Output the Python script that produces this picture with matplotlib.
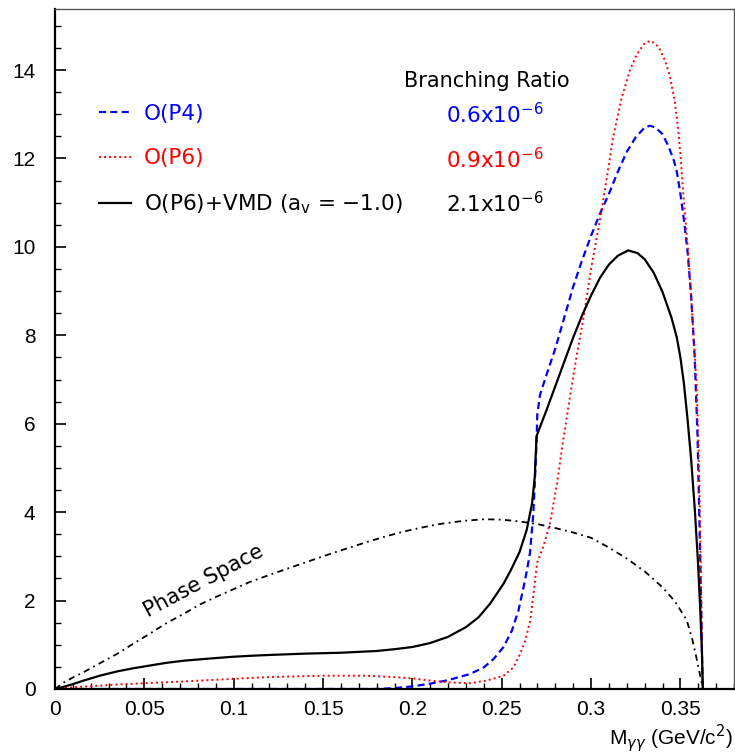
import numpy as np
import matplotlib
matplotlib.use("Agg")
import matplotlib.pyplot as plt
from matplotlib.ticker import MultipleLocator, FuncFormatter

# curves (x = M_gg in GeV/c^2)
vmd_x = [0, 0.003, 0.01, 0.016, 0.025, 0.035, 0.044, 0.053, 0.062, 0.072, 0.081, 0.09,
         0.10, 0.109, 0.12, 0.14, 0.16, 0.18, 0.19, 0.20, 0.21, 0.22, 0.23, 0.237,
         0.2435, 0.251, 0.255, 0.26, 0.264, 0.267, 0.2685, 0.2695, 0.275, 0.28, 0.285,
         0.29, 0.295, 0.30, 0.305, 0.31, 0.315, 0.3208, 0.326, 0.33, 0.335, 0.34,
         0.345, 0.348, 0.35, 0.352, 0.354, 0.356, 0.358, 0.3598, 0.361, 0.362, 0.3626]
vmd_y = [0, 0.03, 0.11, 0.19, 0.30, 0.40, 0.47, 0.53, 0.59, 0.64, 0.67, 0.70,
         0.73, 0.75, 0.77, 0.80, 0.82, 0.86, 0.90, 0.95, 1.04, 1.18, 1.40, 1.62,
         1.93, 2.38, 2.68, 3.10, 3.60, 4.20, 4.80, 5.72, 6.30, 6.85, 7.40,
         7.95, 8.45, 8.90, 9.30, 9.60, 9.80, 9.92, 9.86, 9.72, 9.42, 8.98,
         8.40, 7.95, 7.50, 6.90, 6.10, 5.20, 4.10, 2.90, 1.90, 0.90, 0]

p4_x = [0, 0.18, 0.19, 0.20, 0.21, 0.22, 0.2323, 0.24, 0.2455, 0.251, 0.2557, 0.2594,
        0.2622, 0.2641, 0.2658, 0.2677, 0.2686, 0.2696, 0.2699, 0.2714, 0.275, 0.28,
        0.285, 0.29, 0.295, 0.30, 0.305, 0.31, 0.315, 0.32, 0.325, 0.33, 0.333,
        0.336, 0.34, 0.343, 0.346, 0.348, 0.35, 0.352, 0.354, 0.356, 0.358, 0.3596,
        0.3608, 0.3618, 0.3624]
p4_y = [0, 0, 0.02, 0.06, 0.12, 0.20, 0.34, 0.49, 0.68, 0.95, 1.32, 1.78,
        2.30, 2.68, 3.07, 3.97, 4.73, 5.71, 6.20, 6.65, 7.10, 7.70,
        8.40, 9.10, 9.70, 10.25, 10.75, 11.20, 11.70, 12.15, 12.48, 12.70, 12.74,
        12.70, 12.55, 12.30, 12.00, 11.70, 11.20, 10.60, 9.90, 8.90, 7.50, 5.71,
        3.50, 1.50, 0]

p6_x = [0, 0.0102, 0.0345, 0.05, 0.0718, 0.0998, 0.12, 0.149, 0.174, 0.19, 0.20, 0.21,
        0.22, 0.2323, 0.2415, 0.251, 0.2566, 0.2604, 0.2632, 0.266, 0.2678, 0.2693,
        0.27, 0.2733, 0.277, 0.2807, 0.2844, 0.2882, 0.292, 0.2956, 0.30, 0.305, 0.309,
        0.3124, 0.317, 0.3218, 0.325, 0.3274, 0.33, 0.333, 0.336, 0.3386, 0.3415,
        0.3442, 0.3468, 0.3488, 0.3502, 0.3516, 0.353, 0.3544, 0.3556, 0.3568, 0.358,
        0.3591, 0.36, 0.361, 0.3618, 0.3624]
p6_y = [0, 0.04, 0.10, 0.13, 0.17, 0.23, 0.27, 0.30, 0.30, 0.27, 0.24, 0.19,
        0.15, 0.13, 0.19, 0.30, 0.49, 0.80, 1.10, 1.55, 2.15, 2.68,
        2.88, 3.22, 3.75, 4.58, 5.63, 6.61, 7.55, 8.35, 9.50, 10.61, 11.60,
        12.49, 13.35, 14.00, 14.30, 14.46, 14.60, 14.66, 14.60, 14.46, 14.20,
        13.85, 13.30, 12.65, 12.00, 11.21, 10.55, 9.86, 9.10, 8.35, 7.60,
        6.84, 5.71, 3.80, 1.80, 0]

ps_x = [0, 0.005, 0.01, 0.016, 0.025, 0.035, 0.044, 0.053, 0.062, 0.072, 0.081, 0.09,
        0.10, 0.109, 0.12, 0.132, 0.145, 0.155, 0.165, 0.175, 0.185, 0.195, 0.205,
        0.215, 0.228, 0.24, 0.25, 0.26, 0.27, 0.28, 0.29, 0.30, 0.31, 0.32, 0.33,
        0.34, 0.347, 0.3535, 0.3565, 0.3585, 0.3603, 0.3615, 0.3626]
ps_y = [0, 0.15, 0.26, 0.38, 0.58, 0.80, 1.03, 1.25, 1.48, 1.70, 1.91, 2.08,
        2.26, 2.42, 2.58, 2.75, 2.93, 3.07, 3.20, 3.33, 3.45, 3.56, 3.65,
        3.73, 3.80, 3.84, 3.83, 3.79, 3.73, 3.64, 3.54, 3.42, 3.20, 2.95, 2.66,
        2.30, 1.98, 1.56, 1.15, 0.80, 0.45, 0.22, 0]

labels = ['O(P4)', 'O(P6)', r'O(P6)+VMD ($\mathregular{a_v}$ = $-$1.0)']
br_values = ['0.6', '0.9', '2.1']
colors = ['blue', 'red', 'black']

W, H = 735, 755
fig = plt.figure(figsize=(W / 100, H / 100), dpi=100)
ax = fig.add_axes([55 / W, 1 - 689 / H, (734 - 55) / W, (689 - 9) / H])

l4, = ax.plot(p4_x, p4_y, color='blue', lw=1.6, linestyle=(0, (3.2, 1.9)))
l6, = ax.plot(p6_x, p6_y, color='red', lw=1.4, linestyle=(0, (1, 1.6)))
lv, = ax.plot(vmd_x, vmd_y, color='black', lw=1.6)
ax.plot(ps_x, ps_y, color='black', lw=1.3, linestyle=(0, (3.5, 2.4, 1, 2.4)))

ax.set_xlim(0, 0.38)
ax.set_ylim(0, 15.38)
ax.xaxis.set_major_locator(MultipleLocator(0.05))
ax.xaxis.set_minor_locator(MultipleLocator(0.01))
ax.yaxis.set_major_locator(MultipleLocator(2))
ax.yaxis.set_minor_locator(MultipleLocator(0.5))
ax.xaxis.set_major_formatter(FuncFormatter(lambda v, p: '%g' % round(v, 3)))
ax.yaxis.set_major_formatter(FuncFormatter(lambda v, p: '%g' % round(v, 3)))
ax.tick_params(which='both', direction='in', top=False, right=False)
ax.tick_params(which='major', length=8, width=1.2)
ax.tick_params(which='minor', length=4, width=1)
ax.tick_params(axis='x', pad=8)
ax.tick_params(axis='y', pad=14)
for lab in ax.get_xticklabels() + ax.get_yticklabels():
    lab.set_fontfamily('Liberation Sans')
    lab.set_fontsize(15)
for s in ['left', 'bottom']:
    ax.spines[s].set_linewidth(1.6)
for s in ['top', 'right']:
    ax.spines[s].set_linewidth(1.0)
    ax.spines[s].set_color('#555555')

fig.text(733 / W, 1 - 738 / H, r'M$_{\gamma\gamma}$ (GeV/c$^2$)', ha='right', va='center',
         fontsize=15, family='Liberation Sans')

leg = ax.legend([l4, l6, lv], labels, loc='upper left', bbox_to_anchor=(99 / W, 1 - 104 / H),
                bbox_transform=fig.transFigure, frameon=False, borderpad=0, borderaxespad=0,
                handlelength=1.5, handletextpad=0.6, labelspacing=1.13,
                prop={'family': 'DejaVu Sans', 'size': 15.5})
for t, c in zip(leg.get_texts(), colors):
    t.set_color(c)

fig.text(487 / W, 1 - 81 / H, 'Branching Ratio', ha='center', va='center',
         fontsize=15, family='DejaVu Sans')
for i, (v, c) in enumerate(zip(br_values, colors)):
    fig.text(446 / W, 1 - (115 + 44.5 * i) / H, v + r'x10$^{\mathregular{-6}}$', ha='left',
             va='center', fontsize=15.5, family='DejaVu Sans', color=c)

ax.text(0.0835, 2.45, 'Phase Space', rotation=28, ha='center', va='center',
        fontsize=15, family='DejaVu Sans')

fig.savefig('out.png', dpi=100)
